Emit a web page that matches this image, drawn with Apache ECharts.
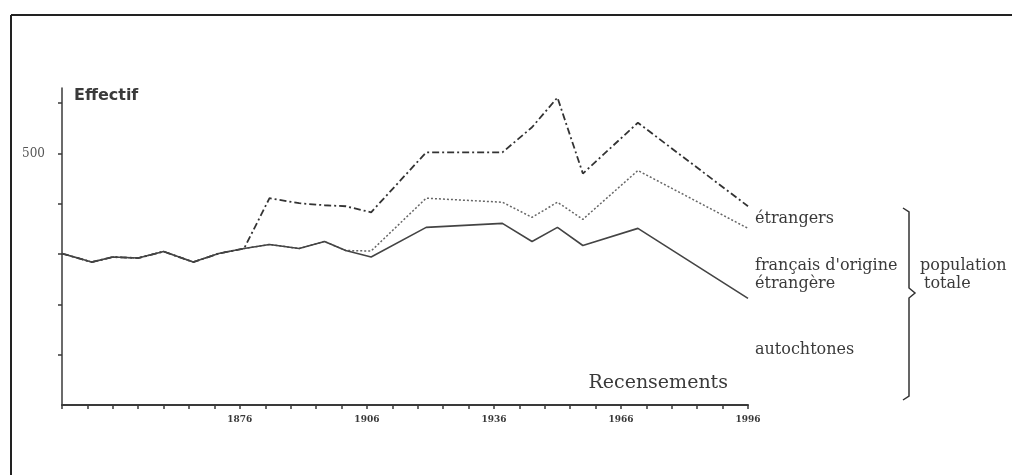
<!DOCTYPE html>
<html>
<head>
<meta charset="utf-8">
<script src="https://cdn.jsdelivr.net/npm/echarts@6/dist/echarts.min.js"></script>
<style>
html,body{margin:0;padding:0;background:#fff;}
#c{width:1012px;height:475px;}
</style>
</head>
<body>
<div id="c"></div>
<script>
// Census years (x positions)
var years = [1834, 1841, 1846, 1852, 1858, 1865, 1871, 1877, 1883, 1890, 1896, 1901, 1907, 1920, 1938, 1945, 1951, 1957, 1970, 1996];
// cumulative effectifs
var autochtones = [301, 284, 294, 292, 305, 284, 301, 311, 319, 311, 325, 307, 294, 353, 361, 325, 353, 317, 351, 212];
var francaisOrigine = [301, 284, 294, 292, 305, 284, 301, 311, 319, 311, 325, 307, 306, 411, 403, 373, 403, 369, 466, 351];
var etrangers = [301, 284, 294, 292, 305, 284, 301, 311, 411, 401, 397, 395, 383, 502, 502, 552, 611, 460, 561, 395];
var xLabels = [1876, 1906, 1936, 1966, 1996];
var yLabels = [500];
var yTicks = [100, 200, 300, 400, 500, 600];

function pairs(v){ return years.map(function(y,i){ return [y, v[i]]; }); }

var ink = '#3a3a3a';
var serif = '"DejaVu Serif", "Liberation Serif", serif';
var sans = '"DejaVu Sans", sans-serif';

var chart = echarts.init(document.getElementById('c'));
chart.setOption({
  backgroundColor: '#fff',
  animation: false,
  grid: {left: 62, right: 264, top: 88, bottom: 70, containLabel: false},
  xAxis: {
    type: 'value', min: 1834, max: 1996, interval: 6,
    name: 'Recensements', nameLocation: 'end', nameGap: -20,
    nameTextStyle: {fontFamily: serif, fontSize: 19, color: ink, align: 'right', verticalAlign: 'bottom', padding: [0,0,12,0]},
    axisLine: {lineStyle: {color: ink, width: 2}},
    axisTick: {show: true, length: 4, lineStyle: {color: ink, width: 1.5}},
    axisLabel: {customValues: xLabels, formatter: function(v){ return String(v); },
      fontFamily: serif, fontSize: 9, fontWeight: 'bold', color: ink, margin: 10},
    splitLine: {show: false}
  },
  yAxis: {
    type: 'value', min: 0, max: 630,
    name: 'Effectif', nameLocation: 'end', nameGap: -8,
    nameTextStyle: {fontFamily: sans, fontSize: 16, fontWeight: 'bold', color: ink, align: 'left', verticalAlign: 'middle', padding: [0,0,0,12]},
    axisLine: {lineStyle: {color: ink, width: 1.5}},
    axisTick: {customValues: yTicks, length: 4, lineStyle: {color: ink, width: 1.5}},
    axisLabel: {customValues: yLabels, fontFamily: serif, fontSize: 12, color: '#555', margin: 17},
    splitLine: {show: false}
  },
  series: [
    {name: 'autochtones', type: 'line', data: pairs(autochtones), symbol: 'none',
     lineStyle: {color: '#444', width: 1.6, type: 'solid'}, z: 3},
    {name: "français d'origine étrangère", type: 'line', data: pairs(francaisOrigine), symbol: 'none',
     lineStyle: {color: '#666', width: 1.5, type: [2, 2]}, z: 2},
    {name: 'étrangers', type: 'line', data: pairs(etrangers), symbol: 'none',
     lineStyle: {color: '#333', width: 1.8, type: [7, 3, 2, 3]}, z: 2}
  ],
  graphic: [
    {type: 'line', shape: {x1: 11, y1: 15, x2: 1012, y2: 15}, style: {stroke: '#222', lineWidth: 2}},
    {type: 'line', shape: {x1: 11, y1: 15, x2: 11, y2: 475}, style: {stroke: '#222', lineWidth: 2}},
    {type: 'polyline', shape: {points: [[903,208],[909,212],[909,288],[915,293],[909,298],[909,396],[903,400]]}, style: {stroke: '#333', lineWidth: 1.5, fill: null}},
    {type: 'text', x: 755, y: 219, style: {text: 'étrangers', font: '16px ' + serif, fill: ink, verticalAlign: 'middle'}},
    {type: 'text', x: 755, y: 266, style: {text: "français d'origine", font: '16px ' + serif, fill: ink, verticalAlign: 'middle'}},
    {type: 'text', x: 755, y: 284, style: {text: 'étrangère', font: '16px ' + serif, fill: ink, verticalAlign: 'middle'}},
    {type: 'text', x: 755, y: 350, style: {text: 'autochtones', font: '16px ' + serif, fill: ink, verticalAlign: 'middle'}},
    {type: 'text', x: 920, y: 266, style: {text: 'population', font: '16px ' + serif, fill: ink, verticalAlign: 'middle'}},
    {type: 'text', x: 924, y: 284, style: {text: 'totale', font: '16px ' + serif, fill: ink, verticalAlign: 'middle'}}
  ]
});
</script>
</body>
</html>
